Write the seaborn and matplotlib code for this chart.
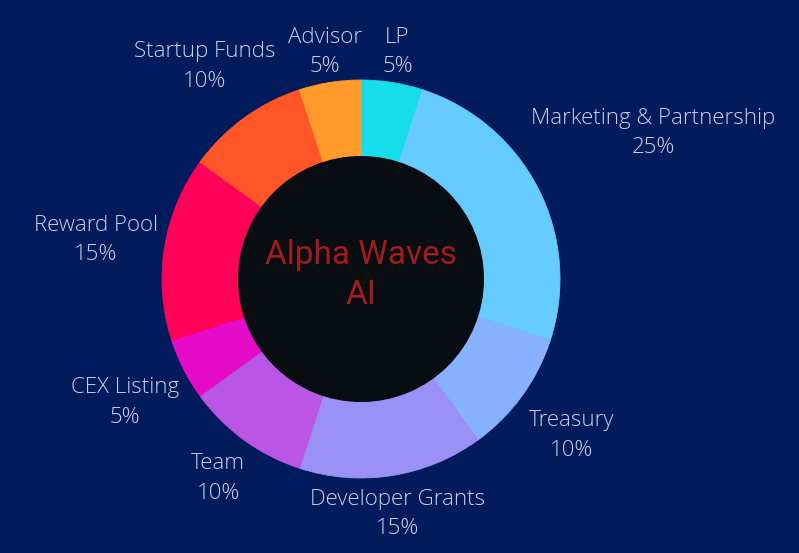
import numpy as np
import seaborn as sns
import matplotlib.pyplot as plt
from matplotlib.patches import Circle

# token allocation, clockwise from the top
labels = ["LP", "Marketing & Partnership", "Treasury", "Developer Grants", "Team",
          "CEX Listing", "Reward Pool", "Startup Funds", "Advisor"]
shares = [5, 25, 10, 15, 10, 5, 15, 10, 5]
hex_colors = ["#16dde9", "#66ccff", "#88b1ff", "#9a90f6", "#bb55e5",
              "#e60bc9", "#ff0157", "#ff5527", "#ff9a2b"]
# how far out each label sits (in units of the outer radius)
label_dist = [1.17, 1.65, 1.31, 1.18, 1.22, 1.33, 1.35, 1.34, 1.17]
center_title = "Alpha Waves\nAI"

sns.set_theme(style="white")
plt.rcParams['font.family'] = ['Open Sans', 'DejaVu Sans']
palette = sns.color_palette(hex_colors)

bg = "#021b5c"
fig = plt.figure(figsize=(7.99, 5.53), dpi=100)
fig.patch.set_facecolor(bg)
ax = fig.add_axes([0, 0, 1, 1])
ax.set_facecolor(bg)

cx, cy, r_out, r_in = 361, 274, 199, 123
wedges, _ = ax.pie(shares, colors=palette, startangle=90, counterclock=False,
                   center=(cx, cy), radius=r_out, frame=True,
                   wedgeprops=dict(width=r_out - r_in, linewidth=0.6, edgecolor=None))
for w in wedges:
    w.set_edgecolor(w.get_facecolor())

# dark hole in the middle
ax.add_patch(Circle((cx, cy), r_in, facecolor="#070d10", edgecolor="none", zorder=3))
ax.text(cx, cy + 4, center_title, ha="center", va="center", color="#a41b1b",
        fontsize=24, family=['Roboto', 'DejaVu Sans'], linespacing=1.3, zorder=4)

# labels placed at the middle angle of each wedge
for w, lab, val, d in zip(wedges, labels, shares, label_dist):
    mid = np.deg2rad((w.theta1 + w.theta2) / 2)
    x = cx + d * r_out * np.cos(mid)
    y = cy + d * r_out * np.sin(mid) - 3
    ax.text(x, y, f"{lab}\n{val}%", ha="center", va="center", color="#c9d1e3",
            fontsize=16, fontweight="light", linespacing=1.55)

ax.set_xlim(0, 799)
ax.set_ylim(0, 553)
ax.set_aspect("equal")
ax.axis("off")

fig.savefig("out.png", dpi=100, facecolor=bg)
